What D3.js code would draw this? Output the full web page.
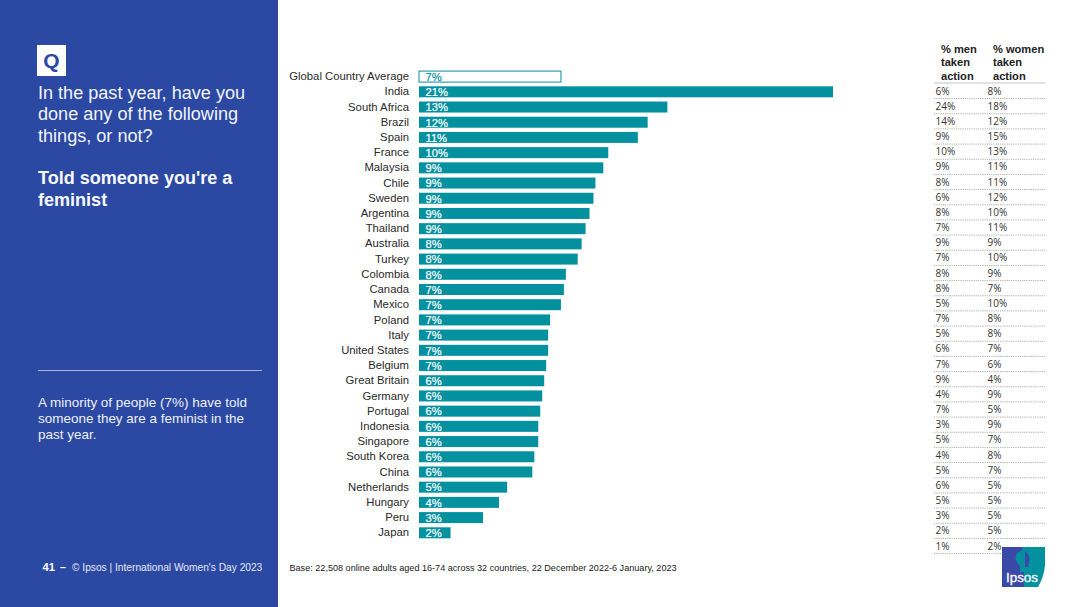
<!DOCTYPE html>
<html>
<head>
<meta charset="utf-8">
<script src="https://cdn.jsdelivr.net/npm/d3@7/dist/d3.min.js"></script>
<style>
html,body{margin:0;padding:0;background:#fff;overflow:hidden}
svg{display:block}
text{font-family:"Liberation Sans",Arial,sans-serif}
</style>
</head>
<body>
<svg id="c" width="1080" height="607"></svg>
<script>
const countries = ["Global Country Average","India","South Africa","Brazil","Spain","France","Malaysia","Chile","Sweden","Argentina","Thailand","Australia","Turkey","Colombia","Canada","Mexico","Poland","Italy","United States","Belgium","Great Britain","Germany","Portugal","Indonesia","Singapore","South Korea","China","Netherlands","Hungary","Peru","Japan"];
const values = [7.2,21,12.6,11.6,11.1,9.6,9.35,8.95,8.85,8.65,8.45,8.25,8.05,7.45,7.35,7.2,6.65,6.55,6.55,6.45,6.35,6.25,6.15,6.05,6.05,5.85,5.75,4.47,4.06,3.25,1.6];
const barLabels = ["7%","21%","13%","12%","11%","10%","9%","9%","9%","9%","9%","8%","8%","8%","7%","7%","7%","7%","7%","7%","6%","6%","6%","6%","6%","6%","6%","5%","4%","3%","2%"];
const men = ["6%","24%","14%","9%","10%","9%","8%","6%","8%","7%","9%","7%","8%","8%","5%","7%","5%","6%","7%","9%","4%","7%","3%","5%","4%","5%","6%","5%","3%","2%","1%"];
const women = ["8%","18%","12%","15%","13%","11%","11%","12%","10%","11%","9%","10%","9%","7%","10%","8%","8%","7%","6%","4%","9%","5%","9%","7%","8%","7%","5%","5%","5%","5%","2%"];
const questionLines = ["In the past year, have you","done any of the following","things, or not?"];
const boldLines = ["Told someone you're a","feminist"];
const noteLines = ["A minority of people (7%) have told","someone they are a feminist in the","past year."];
const headMen = ["% men","taken","action"];
const headWomen = ["% women","taken","action"];

const BLUE="#2b48a3", TEAL="#04919f";
const svg=d3.select("#c");

// left panel
svg.append("rect").attr("x",0).attr("y",0).attr("width",278).attr("height",607).attr("fill",BLUE);
svg.append("rect").attr("x",37).attr("y",45).attr("width",29).attr("height",31).attr("fill","#fff");
svg.append("text").attr("x",51.5).attr("y",68).attr("text-anchor","middle").attr("font-size",21).attr("font-weight",700).attr("fill",BLUE).text("Q");
const lines=(arr,x,y0,dy,size,weight,fill)=>svg.append("g").selectAll("text").data(arr).join("text")
  .attr("x",x).attr("y",(d,i)=>y0+i*dy).attr("font-size",size).attr("font-weight",weight).attr("fill",fill).text(d=>d);
lines(questionLines,38,99,21.4,18.08,400,"#f2f4fa");
lines(boldLines,38,184,21.6,18.05,700,"#f7f8fc");
svg.append("line").attr("x1",38).attr("x2",262).attr("y1",370.5).attr("y2",370.5).attr("stroke","#a9b3d8").attr("stroke-width",1);
lines(noteLines,38,406.5,16.2,13.47,400,"#eef0f8");
svg.append("text").attr("x",42.5).attr("y",570.5).attr("font-size",11.2).attr("font-weight",700).attr("fill","#fff").text("41");
svg.append("text").attr("x",60).attr("y",570.5).attr("font-size",10.5).attr("font-weight",700).attr("fill","#fff").text("–");
svg.append("text").attr("x",72).attr("y",570.5).attr("font-size",10.2).attr("fill","#e6e9f5").text("© Ipsos | International Women's Day 2023");
svg.append("text").attr("x",289.5).attr("y",571).attr("font-size",9.1).attr("fill","#222").text("Base: 22,508 online adults aged 16-74 across 32 countries, 22 December 2022-6 January, 2023");

// bars
const x=d3.scaleLinear().domain([0,21]).range([419,833]);
const y=d3.scalePoint().domain(countries).range([76.6,532.8]);
const barH=11;
svg.append("g").selectAll("rect").data(countries).join("rect")
  .attr("x",x(0)).attr("y",d=>y(d)-barH/2)
  .attr("width",(d,i)=>x(values[i])-x(0)).attr("height",barH)
  .attr("fill",(d,i)=>i===0?"#fff":TEAL)
  .attr("stroke",(d,i)=>i===0?"#1c98a6":"none").attr("stroke-width",1.1);
svg.append("g").selectAll("text").data(countries).join("text")
  .attr("x",409).attr("y",d=>y(d)+3.6).attr("text-anchor","end").attr("font-size",11.3).attr("fill","#2a2a2a").text(d=>d);
svg.append("g").selectAll("text").data(countries).join("text")
  .attr("x",425.5).attr("y",d=>y(d)+4.3).attr("font-size",11.2)
  .attr("fill",(d,i)=>i===0?TEAL:"#fff").attr("stroke",(d,i)=>i===0?TEAL:"#fff").attr("stroke-width",0.2)
  .text((d,i)=>barLabels[i]);

// table
const ty=d3.scalePoint().domain(countries).range([91,546]);
const step=ty.step();
lines(headMen,941,53,13.4,11.1,700,"#222");
lines(headWomen,993,53,13.4,11.1,700,"#222");
svg.append("line").attr("x1",934).attr("x2",1045).attr("y1",83).attr("y2",83).attr("stroke","#c4c4c4").attr("stroke-width",1);
svg.append("g").selectAll("line").data(countries).join("line")
  .attr("x1",934).attr("x2",1045).attr("y1",d=>ty(d)+step/2).attr("y2",d=>ty(d)+step/2)
  .attr("stroke","#999").attr("stroke-width",0.8).attr("stroke-dasharray","1.2 1");
const cell=(arr,cx)=>svg.append("g").selectAll("text").data(countries).join("text")
  .attr("x",cx).attr("y",d=>ty(d)+3.5).attr("font-size",10).attr("fill","#333")
  .style("font-family","'Open Sans','Noto Sans',sans-serif").text((d,i)=>arr[i]);
cell(men,935.5);
cell(women,987.5);

// logo
const logo=svg.append("g");
logo.append("path").attr("d","M1002 547H1045V565Q1044 577 1038 587H1002Z").attr("fill",TEAL);
logo.append("path").attr("d","M1002 547H1023Q1020 552 1020 558V572H1024V587H1002Z").attr("fill","#3a48a8");
logo.append("path").attr("d","M1021 551Q1014 553 1016 560Q1018 565 1021 567Z").attr("fill",TEAL);
logo.append("path").attr("d","M1025 551Q1032 556 1028 567H1025Z").attr("fill","#3a48a8");
logo.append("text").attr("x",1022).attr("y",582).attr("text-anchor","middle").attr("font-size",13.4).attr("fill","#fff").attr("stroke","#fff").attr("stroke-width",0.3).text("Ipsos");
</script>
</body>
</html>
